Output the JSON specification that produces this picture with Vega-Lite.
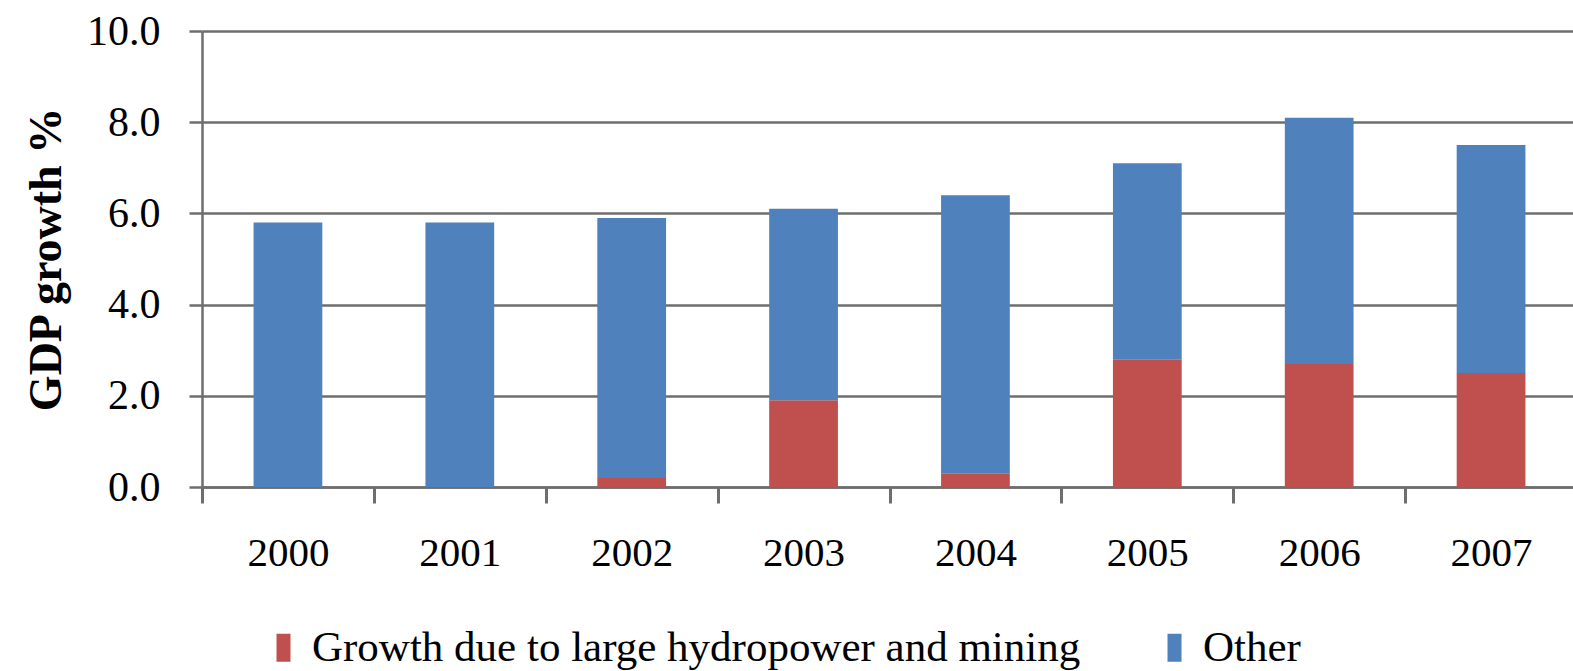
{
  "$schema": "https://vega.github.io/schema/vega-lite/v6.json",
  "autosize": {"type": "none"},
  "width": 1375,
  "height": 456,
  "padding": {"left": 202, "top": 31, "right": 0, "bottom": 184},
  "background": "white",
  "config": {"view": {"stroke": null}, "font": "Liberation Serif"},
  "data": {
    "values": [
      {"year": "2000", "series": "Growth due to large hydropower and mining", "value": 0.0, "ord": 1},
      {"year": "2000", "series": "Other", "value": 5.8, "ord": 2},
      {"year": "2001", "series": "Growth due to large hydropower and mining", "value": 0.0, "ord": 1},
      {"year": "2001", "series": "Other", "value": 5.8, "ord": 2},
      {"year": "2002", "series": "Growth due to large hydropower and mining", "value": 0.2, "ord": 1},
      {"year": "2002", "series": "Other", "value": 5.7, "ord": 2},
      {"year": "2003", "series": "Growth due to large hydropower and mining", "value": 1.9, "ord": 1},
      {"year": "2003", "series": "Other", "value": 4.2, "ord": 2},
      {"year": "2004", "series": "Growth due to large hydropower and mining", "value": 0.3, "ord": 1},
      {"year": "2004", "series": "Other", "value": 6.1, "ord": 2},
      {"year": "2005", "series": "Growth due to large hydropower and mining", "value": 2.8, "ord": 1},
      {"year": "2005", "series": "Other", "value": 4.3, "ord": 2},
      {"year": "2006", "series": "Growth due to large hydropower and mining", "value": 2.7, "ord": 1},
      {"year": "2006", "series": "Other", "value": 5.4, "ord": 2},
      {"year": "2007", "series": "Growth due to large hydropower and mining", "value": 2.5, "ord": 1},
      {"year": "2007", "series": "Other", "value": 5.0, "ord": 2}
    ]
  },
  "mark": {"type": "bar"},
  "encoding": {
    "x": {
      "field": "year",
      "type": "ordinal",
      "scale": {"paddingInner": 0.6, "paddingOuter": 0.3},
      "axis": {
        "title": null,
        "labelAngle": 0,
        "tickOffset": -85.9,
        "labelOffset": 85.9,
        "tickSize": 16,
        "tickWidth": 3,
        "tickColor": "#6e6e6e",
        "domainColor": "#6e6e6e",
        "domainWidth": 2.5,
        "labelFontSize": 41,
        "labelColor": "black",
        "labelPadding": 30,
        "grid": false
      }
    },
    "y": {
      "field": "value",
      "type": "quantitative",
      "stack": "zero",
      "scale": {"domain": [0, 10]},
      "axis": {
        "values": [0, 2, 4, 6, 8, 10],
        "format": ".1f",
        "title": "GDP growth %",
        "titleFontSize": 46,
        "titleFontWeight": "bold",
        "titleColor": "black",
        "titlePadding": 16,
        "grid": true,
        "gridColor": "#6e6e6e",
        "gridWidth": 2.5,
        "gridOpacity": 1,
        "tickSize": 13,
        "tickColor": "#6e6e6e",
        "tickWidth": 2.5,
        "domainColor": "#6e6e6e",
        "domainWidth": 2.5,
        "labelFontSize": 42,
        "labelColor": "black",
        "labelPadding": 29
      }
    },
    "color": {
      "field": "series",
      "type": "nominal",
      "scale": {
        "domain": ["Growth due to large hydropower and mining", "Other"],
        "range": ["#C0504D", "#4F81BD"]
      },
      "legend": {
        "title": null,
        "orient": "none",
        "legendX": 60,
        "legendY": 595,
        "direction": "horizontal",
        "symbolType": "M-0.5,-1L0.5,-1L0.5,1L-0.5,1Z",
        "symbolSize": 784,
        "symbolStrokeWidth": 0,
        "symbolOpacity": 1,
        "labelFontSize": 43,
        "labelColor": "black",
        "labelOffset": 7,
        "columnPadding": 72,
        "labelLimit": 1000
      }
    },
    "order": {"field": "ord", "type": "quantitative"}
  }
}
